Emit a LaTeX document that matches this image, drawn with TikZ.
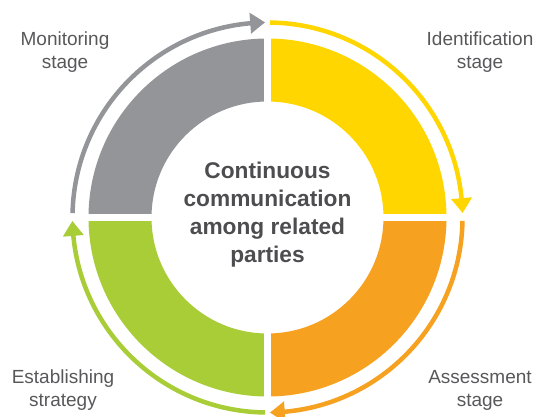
\documentclass[tikz,border=0pt]{standalone}
\usepackage{fontspec}
\setmainfont{Liberation Sans}
\usetikzlibrary{arrows.meta,bending}
\definecolor{stagegray}{RGB}{148,149,153}
\definecolor{stageyellow}{RGB}{255,214,0}
\definecolor{stageorange}{RGB}{247,161,32}
\definecolor{stagegreen}{RGB}{168,205,55}
\definecolor{labeltext}{RGB}{88,88,91}
\definecolor{hubtext}{RGB}{77,77,80}
\begin{document}
\begin{tikzpicture}[
	ringarrow/.style={line width=4.5pt,-{Triangle[width=20pt,length=15pt,bend]}},
	gapline/.style={white,line width=7pt},
	stagelabel/.style={align=center,inner sep=0pt,text=labeltext,font=\fontsize{19}{23}\selectfont},
	]
	\useasboundingbox (-267.5pt,-199.5pt) rectangle (265.5pt,217.5pt); % keeps the margins
	\coordinate (Origin) at (0,0);
	
	\foreach \a/\b/\col in {0/90/stageyellow,90/180/stagegray,180/270/stagegreen,270/360/stageorange}{% one ring piece per stage
		\fill[\col] (\a:116pt) arc[start angle=\a,end angle=\b,radius=116pt]
		-- (\b:179pt) arc[start angle=\b,end angle=\a,radius=179pt] -- cycle;
	}
	\draw[gapline] (-182pt,0) -- (182pt,0);
	\draw[gapline] (0,-182pt) -- (0,182pt);
	
	\foreach \s/\e/\col in {178.7/90.7/stagegray,89.3/1.3/stageyellow,-1/-89.3/stageorange,-90.7/-179/stagegreen}{% outer arrows, clockwise
		\draw[ringarrow,\col] (\s:195pt) arc[start angle=\s,end angle=\e,radius=195pt];
	}
	
	\node[align=center,inner sep=0pt,text=hubtext,font=\fontsize{22.7}{28}\selectfont\bfseries] (hub) at (0,3pt)
	{Continuous\\communication\\among related\\parties};
	
	\node[stagelabel] (monitor) at (-202.5pt,165.5pt) {Monitoring\\stage};
	\node[stagelabel] (identify) at (212.5pt,165.5pt) {Identification\\stage};
	\node[stagelabel] (assess) at (212.5pt,-172.5pt) {Assessment\\stage};
	\node[stagelabel] (strategy) at (-204.5pt,-172.5pt) {Establishing\\strategy};
\end{tikzpicture}
\end{document}
